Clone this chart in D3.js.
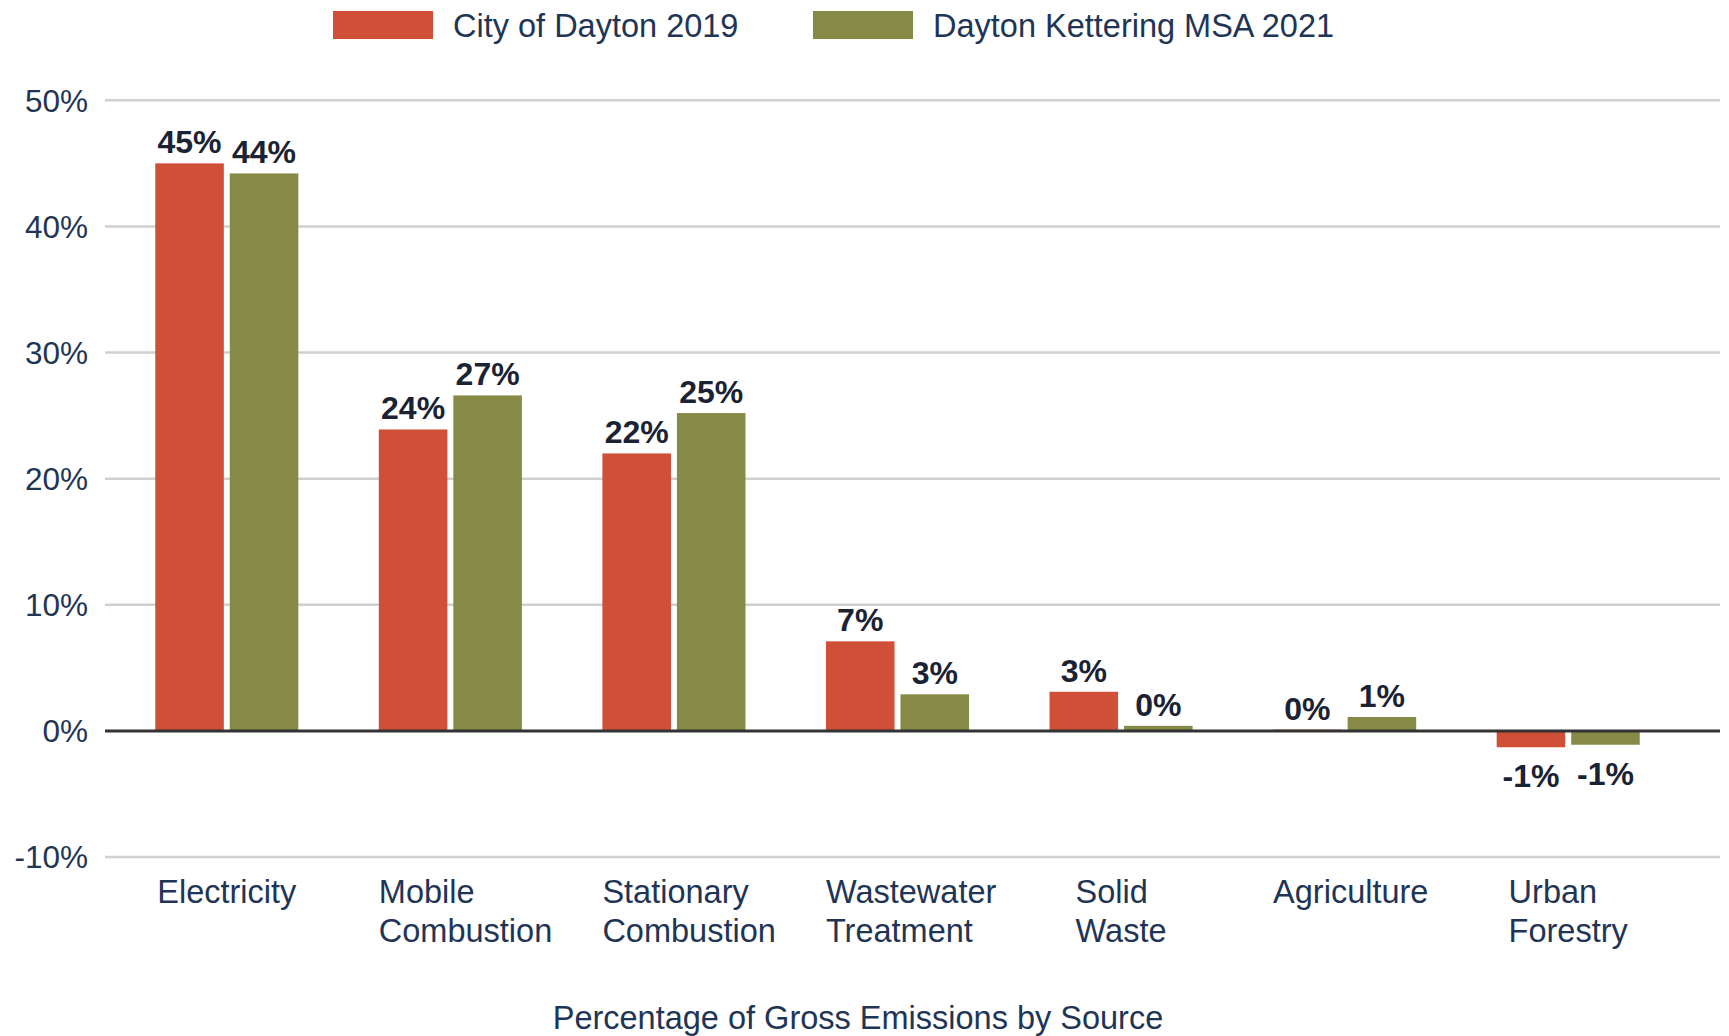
<!DOCTYPE html>
<html>
<head>
<meta charset="utf-8">
<script src="https://cdn.jsdelivr.net/npm/d3@7"></script>
<style>
  body { margin: 0; background: #fff; }
  text { font-family: "Liberation Sans", Arial, sans-serif; }
</style>
</head>
<body>
<svg width="1729" height="1036"></svg>
<script>
// data
var categories = ["Electricity", "Mobile Combustion", "Stationary Combustion", "Wastewater Treatment", "Solid Waste", "Agriculture", "Urban Forestry"];
var catLines = [["Electricity"], ["Mobile", "Combustion"], ["Stationary", "Combustion"], ["Wastewater", "Treatment"], ["Solid", "Waste"], ["Agriculture"], ["Urban", "Forestry"]];
var seriesNames = ["City of Dayton 2019", "Dayton Kettering MSA 2021"];
var dayton2019 = [45.0, 23.9, 22.0, 7.1, 3.1, 0.1, -1.3];
var msa2021 = [44.2, 26.6, 25.2, 2.9, 0.4, 1.1, -1.1];
var yTicks = [-10, 0, 10, 20, 30, 40, 50];

var colors = ["#cf5036", "#868a46"];
var textColor = "#1f3556";

var svg = d3.select("svg");

var y = d3.scaleLinear().domain([-10, 50]).range([857, 100.3]);
var x0 = d3.scaleBand().domain(categories).range([115, 1680]).paddingInner(0.36).paddingOuter(0.18);
var x1 = d3.scaleBand().domain(seriesNames).range([0, x0.bandwidth()]).paddingInner(0.08);

// gridlines
svg.append("g").selectAll("line")
    .data(yTicks.filter(function (d) { return d != 0; }))
    .enter().append("line")
    .attr("x1", 105).attr("x2", 1720)
    .attr("y1", function (d) { return y(d); })
    .attr("y2", function (d) { return y(d); })
    .attr("stroke", "#d0d0d0")
    .attr("stroke-width", 2.5);

// tick labels
svg.append("g").selectAll("text")
    .data(yTicks)
    .enter().append("text")
    .attr("x", 88)
    .attr("y", function (d) { return y(d); })
    .attr("dy", "0.36em")
    .attr("text-anchor", "end")
    .attr("font-size", 31.5)
    .attr("fill", textColor)
    .text(function (d) { return d + "%"; });

var rows = categories.map(function (c, i) {
    return { cat: c, vals: [dayton2019[i], msa2021[i]] };
});

var groups = svg.append("g").selectAll("g")
    .data(rows)
    .enter().append("g")
    .attr("transform", function (d) { return "translate(" + x0(d.cat) + ",0)"; });

var bars = groups.selectAll("g.bar")
    .data(function (d) { return d.vals.map(function (v, j) { return { s: seriesNames[j], v: v, j: j }; }); })
    .enter().append("g").attr("class", "bar");

bars.append("rect")
    .attr("x", function (d) { return x1(d.s); })
    .attr("width", x1.bandwidth())
    .attr("y", function (d) { return y(Math.max(0, d.v)); })
    .attr("height", function (d) { return Math.max(1.5, Math.abs(y(d.v) - y(0))); })
    .attr("fill", function (d) { return colors[d.j]; });

bars.append("text")
    .attr("x", function (d) { return x1(d.s) + x1.bandwidth() / 2; })
    .attr("y", function (d) { return d.v >= 0 ? y(d.v) - 10 : y(d.v) + 40; })
    .attr("text-anchor", "middle")
    .attr("font-size", 32)
    .attr("font-weight", "bold")
    .attr("fill", "#1a2233")
    .text(function (d) { return Math.round(d.v) + "%"; });

// zero line
svg.append("line")
    .attr("x1", 105).attr("x2", 1720)
    .attr("y1", y(0)).attr("y2", y(0))
    .attr("stroke", "#333")
    .attr("stroke-width", 3);

// category labels: centred on the group, but never starting left of the group
var catG = svg.append("g");
catLines.forEach(function (lines, i) {
    var t = catG.append("text")
        .attr("font-size", 32.5)
        .attr("fill", textColor);
    var w = 0;
    lines.forEach(function (l, k) {
        var ts = t.append("tspan").attr("y", 891 + k * 39).attr("dy", "0.36em").text(l);
        w = Math.max(w, ts.node().getComputedTextLength());
    });
    var start = x0(categories[i]);
    var cx = start + x0.bandwidth() / 2;
    t.selectAll("tspan").attr("x", Math.max(start, cx - w / 2));
});

// axis title
svg.append("text")
    .attr("x", 858).attr("y", 1017).attr("dy", "0.36em")
    .attr("text-anchor", "middle")
    .attr("font-size", 32.5)
    .attr("fill", textColor)
    .text("Percentage of Gross Emissions by Source");

// legend
var legX = [333, 813];
var leg = svg.append("g").selectAll("g")
    .data(seriesNames)
    .enter().append("g")
    .attr("transform", function (d, i) { return "translate(" + legX[i] + ",11)"; });
leg.append("rect").attr("width", 100).attr("height", 28)
    .attr("fill", function (d, i) { return colors[i]; });
leg.append("text")
    .attr("x", 120).attr("y", 14).attr("dy", "0.36em")
    .attr("font-size", 32.5)
    .attr("fill", textColor)
    .text(function (d) { return d; });
</script>
</body>
</html>
